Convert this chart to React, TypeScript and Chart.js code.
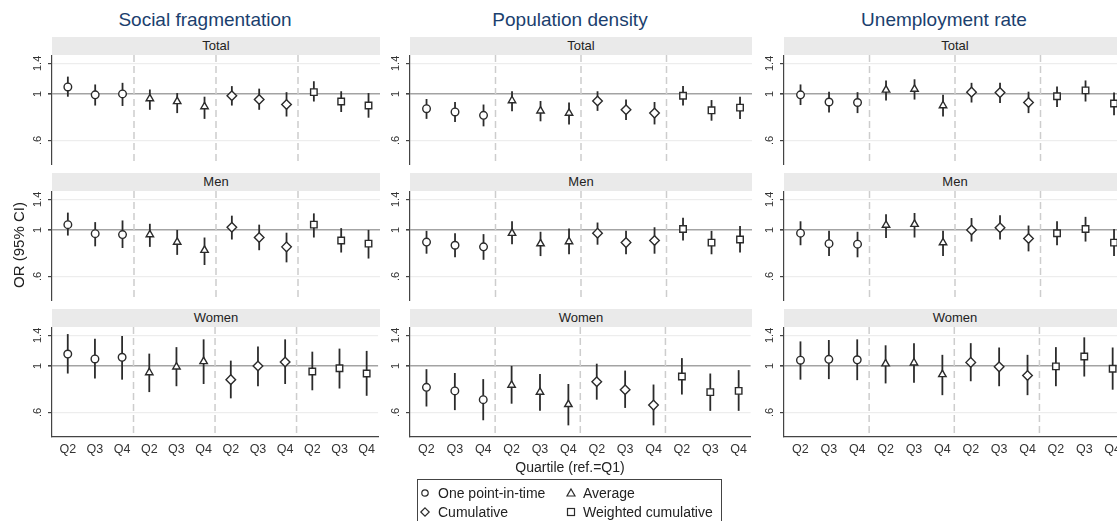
import React, { useEffect, useRef } from "react";
import { Chart, registerables } from "chart.js";
Chart.register(...registerables);

// ---------- labels ----------
const outcomes = ["Social fragmentation", "Population density", "Unemployment rate"];
const samples = ["Total", "Men", "Women"];
const measures = ["One point-in-time", "Average", "Cumulative", "Weighted cumulative"];
const quartiles = ["Q2", "Q3", "Q4"];
const yTickValues = [0.6, 1, 1.4];
const yTickLabels = [".6", "1", "1.4"];
const yTitle = "OR (95% CI)";
const xTitle = "Quartile (ref.=Q1)";

// ---------- data (order: point-in-time Q2-4, average Q2-4, cumulative Q2-4, weighted Q2-4) ----------
const socTotalOR = [1.08, 0.99, 1.0, 0.95, 0.92, 0.87, 0.98, 0.94, 0.89, 1.02, 0.92, 0.88];
const socTotalLo = [0.97, 0.88, 0.876, 0.84, 0.81, 0.76, 0.88, 0.84, 0.78, 0.92, 0.82, 0.77];
const socTotalHi = [1.21, 1.11, 1.13, 1.05, 1.01, 0.97, 1.09, 1.06, 1.02, 1.15, 1.03, 1.01];

const socMenOR = [1.06, 0.96, 0.95, 0.95, 0.875, 0.8, 1.03, 0.92, 0.83, 1.06, 0.89, 0.86];
const socMenLo = [0.94, 0.835, 0.82, 0.83, 0.76, 0.68, 0.9, 0.8, 0.7, 0.92, 0.78, 0.73];
const socMenHi = [1.21, 1.09, 1.11, 1.07, 1.0, 0.92, 1.17, 1.06, 0.97, 1.2, 1.02, 1.0];

const socWomenOR = [1.14, 1.08, 1.1, 0.93, 0.99, 1.05, 0.86, 1.0, 1.045, 0.94, 0.975, 0.92];
const socWomenLo = [0.92, 0.87, 0.86, 0.75, 0.8, 0.82, 0.7, 0.8, 0.82, 0.765, 0.78, 0.72];
const socWomenHi = [1.42, 1.35, 1.39, 1.145, 1.23, 1.34, 1.06, 1.24, 1.34, 1.17, 1.21, 1.18];

const popTotalOR = [0.85, 0.82, 0.79, 0.93, 0.83, 0.81, 0.925, 0.84, 0.81, 0.98, 0.835, 0.86];
const popTotalLo = [0.76, 0.735, 0.7, 0.826, 0.74, 0.715, 0.83, 0.75, 0.715, 0.88, 0.745, 0.76];
const popTotalHi = [0.946, 0.915, 0.89, 1.03, 0.925, 0.91, 1.03, 0.94, 0.915, 1.09, 0.935, 0.97];

const popMenOR = [0.875, 0.845, 0.83, 0.965, 0.86, 0.88, 0.965, 0.87, 0.89, 1.01, 0.87, 0.9];
const popMenLo = [0.77, 0.74, 0.72, 0.855, 0.75, 0.765, 0.85, 0.765, 0.77, 0.89, 0.765, 0.78];
const popMenHi = [0.99, 0.965, 0.955, 1.1, 0.98, 1.015, 1.085, 0.99, 1.03, 1.145, 0.99, 1.045];

const popWomenOR = [0.79, 0.76, 0.69, 0.81, 0.75, 0.655, 0.84, 0.77, 0.65, 0.89, 0.75, 0.76];
const popWomenLo = [0.64, 0.615, 0.55, 0.66, 0.61, 0.52, 0.69, 0.63, 0.52, 0.73, 0.61, 0.61];
const popWomenHi = [0.965, 0.925, 0.865, 1.0, 0.915, 0.82, 1.025, 0.95, 0.815, 1.09, 0.92, 0.955];

const unTotalOR = [0.99, 0.915, 0.91, 1.045, 1.055, 0.88, 1.02, 1.015, 0.91, 0.975, 1.04, 0.9];
const unTotalLo = [0.885, 0.815, 0.81, 0.93, 0.94, 0.78, 0.91, 0.905, 0.81, 0.865, 0.92, 0.79];
const unTotalHi = [1.11, 1.025, 1.02, 1.16, 1.175, 0.99, 1.13, 1.13, 1.025, 1.085, 1.16, 1.015];

const unMenOR = [0.965, 0.86, 0.855, 1.055, 1.065, 0.87, 1.0, 1.025, 0.91, 0.965, 1.01, 0.87];
const unMenLo = [0.845, 0.75, 0.74, 0.915, 0.92, 0.75, 0.88, 0.9, 0.79, 0.845, 0.88, 0.75];
const unMenHi = [1.1, 0.99, 0.98, 1.19, 1.205, 0.99, 1.14, 1.175, 1.05, 1.1, 1.155, 1.01];

const unWomenOR = [1.065, 1.075, 1.07, 1.025, 1.035, 0.91, 1.04, 0.99, 0.9, 0.995, 1.11, 0.97];
const unWomenLo = [0.86, 0.865, 0.855, 0.825, 0.83, 0.725, 0.845, 0.8, 0.725, 0.8, 0.89, 0.77];
const unWomenHi = [1.31, 1.33, 1.34, 1.255, 1.285, 1.13, 1.285, 1.225, 1.13, 1.23, 1.37, 1.225];

const panelData = [
  [
    { or: socTotalOR, lo: socTotalLo, hi: socTotalHi },
    { or: socMenOR, lo: socMenLo, hi: socMenHi },
    { or: socWomenOR, lo: socWomenLo, hi: socWomenHi },
  ],
  [
    { or: popTotalOR, lo: popTotalLo, hi: popTotalHi },
    { or: popMenOR, lo: popMenLo, hi: popMenHi },
    { or: popWomenOR, lo: popWomenLo, hi: popWomenHi },
  ],
  [
    { or: unTotalOR, lo: unTotalLo, hi: unTotalHi },
    { or: unMenOR, lo: unMenLo, hi: unMenHi },
    { or: unWomenOR, lo: unWomenLo, hi: unWomenHi },
  ],
];

// ---------- layout & style ----------
const FONT = "Arial, 'Liberation Sans', Helvetica, sans-serif";
const colLeft = [52, 410, 784];
const colWidth = [328, 342, 342];
const rowTop = [55, 191, 327];
const plotH = 110;
const stripH = 18;
const yAxisW = 40;
const xAxisH = 24;
const xMin = 0.42;
const xMax = 12.42;
const yMin = 0.4575;
const yMax = 1.535;
const titleCenters = [205, 570, 944];
const pointStyles = ["circle", "triangle", "rectRot", "rect"];
const pointRadii = [3.8, 4.3, 4.8, 4.6];
const INK = "#2b2b2b";

const decorPlugin = {
  id: "decor",
  beforeDatasetsDraw(chart: any) {
    const { ctx, chartArea, scales } = chart;
    const x = scales.x;
    const y = scales.y;
    ctx.save();
    // dashed group separators
    ctx.strokeStyle = "#cdcdcd";
    ctx.lineWidth = 1.5;
    ctx.setLineDash([7, 4]);
    for (let g = 1; g < measures.length; g++) {
      const px = x.getPixelForValue(xMin + g * quartiles.length);
      ctx.beginPath();
      ctx.moveTo(px, chartArea.top);
      ctx.lineTo(px, chartArea.bottom);
      ctx.stroke();
    }
    ctx.setLineDash([]);
    // confidence intervals
    ctx.strokeStyle = INK;
    ctx.lineWidth = 1.8;
    chart.data.datasets.forEach((ds: any) => {
      ds.data.forEach((p: any, i: number) => {
        const px = x.getPixelForValue(p.x);
        ctx.beginPath();
        ctx.moveTo(px, y.getPixelForValue(ds.lo[i]));
        ctx.lineTo(px, y.getPixelForValue(ds.hi[i]));
        ctx.stroke();
      });
    });
    ctx.restore();
  },
  afterDraw(chart: any) {
    const { ctx, chartArea, scales } = chart;
    const y = scales.y;
    ctx.save();
    ctx.fillStyle = "#333";
    ctx.font = `11px ${FONT}`;
    ctx.textAlign = "center";
    ctx.textBaseline = "middle";
    yTickValues.forEach((v, i) => {
      ctx.save();
      ctx.translate(chartArea.left - 14, y.getPixelForValue(v));
      ctx.rotate(-Math.PI / 2);
      ctx.fillText(yTickLabels[i], 0, 0);
      ctx.restore();
    });
    ctx.restore();
  },
};

function Panel({ col, row }: { col: number; row: number }) {
  const ref = useRef<HTMLCanvasElement>(null);
  const isBottom = row === samples.length - 1;
  const w = yAxisW + colWidth[col];
  const h = plotH + (isBottom ? xAxisH : 0);
  useEffect(() => {
    if (!ref.current) return;
    const d = panelData[col][row];
    const datasets = measures.map((m, g) => ({
      label: m,
      data: quartiles.map((q, k) => ({ x: g * quartiles.length + k + 1, y: d.or[g * 3 + k] })),
      lo: quartiles.map((q, k) => d.lo[g * 3 + k]),
      hi: quartiles.map((q, k) => d.hi[g * 3 + k]),
      pointStyle: pointStyles[g],
      pointRadius: pointRadii[g],
      pointBackgroundColor: "#ffffff",
      pointBorderColor: INK,
      pointBorderWidth: 1.4,
      showLine: false,
      clip: false,
    }));
    const chart = new Chart(ref.current, {
      type: "scatter",
      data: { datasets } as any,
      plugins: [decorPlugin],
      options: {
        animation: false,
        responsive: false,
        devicePixelRatio: 1,
        events: [],
        layout: { padding: 0, autoPadding: false },
        plugins: { legend: { display: false }, tooltip: { enabled: false } },
        scales: {
          x: {
            type: "linear",
            min: xMin,
            max: xMax,
            display: isBottom,
            afterBuildTicks: (s: any) => {
              s.ticks = Array.from({ length: 12 }, (_, i) => ({ value: i + 1 }));
            },
            afterFit: (s: any) => {
              s.height = isBottom ? xAxisH : 0;
            },
            grid: { display: false, drawTicks: false },
            border: { display: true, color: "#444", width: 1.2 },
            ticks: {
              autoSkip: false,
              maxRotation: 0,
              minRotation: 0,
              padding: 5,
              color: "#333",
              font: { size: 12.5, family: FONT },
              callback: (v: any, i: number) => quartiles[i % quartiles.length],
            },
          },
          y: {
            type: "logarithmic",
            min: yMin,
            max: yMax,
            afterBuildTicks: (s: any) => {
              s.ticks = yTickValues.map((v) => ({ value: v }));
            },
            afterFit: (s: any) => {
              s.width = yAxisW;
            },
            ticks: { display: false },
            grid: {
              drawTicks: true,
              tickLength: 4,
              tickColor: "#444",
              color: (c: any) => (c.tick && c.tick.value === 1 ? "#a3a3a3" : "#ededed"),
              lineWidth: (c: any) => (c.tick && c.tick.value === 1 ? 1.6 : 1.2),
            },
            border: { display: true, color: "#444", width: 1.2 },
          },
        },
      } as any,
    });
    return () => chart.destroy();
  }, [col, row]);
  return (
    <canvas
      ref={ref}
      width={w}
      height={h}
      style={{ position: "absolute", left: colLeft[col] - yAxisW, top: rowTop[row], width: w, height: h }}
    />
  );
}

function Marker({ kind }: { kind: number }) {
  const s = { fill: "#fff", stroke: INK, strokeWidth: 1.2 };
  return (
    <svg width={10} height={10} style={{ position: "absolute", left: -5, top: -5, overflow: "visible" }}>
      {kind === 0 && <circle cx={5} cy={5} r={3.2} {...s} />}
      {kind === 1 && <polygon points="5,1 9,8 1,8" {...s} />}
      {kind === 2 && <polygon points="5,0.8 9.2,5 5,9.2 0.8,5" {...s} />}
      {kind === 3 && <rect x={1.5} y={1.5} width={7} height={7} {...s} />}
    </svg>
  );
}

export default function App() {
  const legendPos = [
    { mx: 425, tx: 438, y: 492.5 },
    { mx: 571, tx: 583, y: 492.5 },
    { mx: 425, tx: 438, y: 512 },
    { mx: 571, tx: 583, y: 512 },
  ];
  return (
    <div
      style={{
        position: "absolute",
        left: 0,
        top: 0,
        width: 1117,
        height: 521,
        overflow: "hidden",
        background: "#fff",
        fontFamily: FONT,
        color: "#222",
      }}
    >
      {outcomes.map((t, c) => (
        <div
          key={t}
          style={{
            position: "absolute",
            left: titleCenters[c] - 150,
            width: 300,
            top: 8,
            textAlign: "center",
            fontSize: 19,
            lineHeight: "24px",
            color: "#1b3f6e",
            whiteSpace: "nowrap",
          }}
        >
          {t}
        </div>
      ))}
      {outcomes.map((_, c) =>
        samples.map((s, r) => (
          <div
            key={`strip-${c}-${r}`}
            style={{
              position: "absolute",
              left: colLeft[c],
              top: rowTop[r] - stripH,
              width: colWidth[c],
              height: stripH,
              background: "#eaeaea",
              textAlign: "center",
              fontSize: 13,
              lineHeight: `${stripH}px`,
              color: "#222",
            }}
          >
            {s}
          </div>
        ))
      )}
      {outcomes.map((_, c) => samples.map((s, r) => <Panel key={`p-${c}-${r}`} col={c} row={r} />))}
      <div
        style={{
          position: "absolute",
          left: 19 - 60,
          top: 245 - 10,
          width: 120,
          height: 20,
          lineHeight: "20px",
          textAlign: "center",
          fontSize: 15,
          transform: "rotate(-90deg)",
          whiteSpace: "nowrap",
        }}
      >
        {yTitle}
      </div>
      <div
        style={{
          position: "absolute",
          left: 570 - 100,
          width: 200,
          top: 457,
          lineHeight: "20px",
          textAlign: "center",
          fontSize: 14,
          whiteSpace: "nowrap",
        }}
      >
        {xTitle}
      </div>
      <div
        style={{
          position: "absolute",
          left: 417,
          top: 479,
          width: 305,
          height: 60,
          border: "1px solid #444",
          boxSizing: "border-box",
        }}
      />
      {measures.map((m, i) => (
        <React.Fragment key={m}>
          <div style={{ position: "absolute", left: legendPos[i].mx, top: legendPos[i].y, width: 0, height: 0 }}>
            <Marker kind={i} />
          </div>
          <div
            style={{
              position: "absolute",
              left: legendPos[i].tx,
              top: legendPos[i].y - 9,
              lineHeight: "18px",
              fontSize: 14,
              whiteSpace: "nowrap",
            }}
          >
            {m}
          </div>
        </React.Fragment>
      ))}
    </div>
  );
}
